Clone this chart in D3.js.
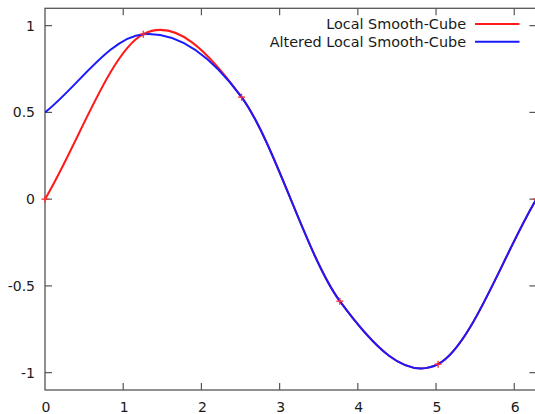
<!DOCTYPE html>
<html>
<head>
<meta charset="utf-8">
<script src="https://cdn.jsdelivr.net/npm/d3@7"></script>
<style>
  html, body { margin: 0; padding: 0; background: #fff; }
  svg { display: block; }
  text { font-family: "DejaVu Sans", sans-serif; fill: #1a1a1a; }
</style>
</head>
<body>
<svg id="chart" width="535" height="414"></svg>
<script>
// Knots (x positions and the two sets of knot values)
const knotX = [0, 1.2566, 2.5133, 3.7699, 5.0265, 6.2832];
const localY = [0, 0.951, 0.588, -0.588, -0.951, 0];
const alteredY = [0.5, 0.951, 0.588, -0.588, -0.951, 0];

const seriesNames = ["Local Smooth-Cube", "Altered Local Smooth-Cube"];
const seriesColors = ["#ff1a1a", "#1a1aff"];

const xTicks = [0, 1, 2, 3, 4, 5, 6];
const yTicks = [-1, -0.5, 0, 0.5, 1];
const yTickLabels = ["-1", "-0.5", "0", "0.5", "1"];
const xDomain = [0, 6.2832];
const yDomain = [-1.1, 1.1];

const plot = { left: 45, right: 536.4, top: 8.3, bottom: 390 };

const svg = d3.select("#chart");
const x = d3.scaleLinear().domain(xDomain).range([plot.left, plot.right]);
const y = d3.scaleLinear().domain(yDomain).range([plot.bottom, plot.top]);

svg.append("defs").append("clipPath").attr("id", "plotClip")
  .append("rect")
  .attr("x", plot.left).attr("y", plot.top)
  .attr("width", plot.right - plot.left).attr("height", plot.bottom - plot.top);

// Local cubic Hermite: centred differences inside, one-sided at the ends
function tangents(xs, ys) {
  const n = xs.length;
  return xs.map((_, i) => {
    if (i === 0) return (ys[1] - ys[0]) / (xs[1] - xs[0]);
    if (i === n - 1) return (ys[n - 1] - ys[n - 2]) / (xs[n - 1] - xs[n - 2]);
    return (ys[i + 1] - ys[i - 1]) / (xs[i + 1] - xs[i - 1]);
  });
}

function smoothCubePath(xs, ys) {
  const m = tangents(xs, ys);
  const p = d3.path();
  p.moveTo(x(xs[0]), y(ys[0]));
  for (let i = 0; i < xs.length - 1; i++) {
    const h = xs[i + 1] - xs[i];
    p.bezierCurveTo(
      x(xs[i] + h / 3), y(ys[i] + m[i] * h / 3),
      x(xs[i + 1] - h / 3), y(ys[i + 1] - m[i + 1] * h / 3),
      x(xs[i + 1]), y(ys[i + 1])
    );
  }
  return p.toString();
}

const axisColor = "#555";
const tickLen = 7;

// Border
svg.append("rect")
  .attr("x", plot.left).attr("y", plot.top)
  .attr("width", plot.right - plot.left).attr("height", plot.bottom - plot.top)
  .attr("fill", "none").attr("stroke", axisColor).attr("stroke-width", 1.3);

// Ticks drawn inward on all four sides
const ticks = svg.append("g").attr("stroke", axisColor).attr("stroke-width", 1.2);
xTicks.forEach(t => {
  const px = x(t);
  if (t !== 0) {
    ticks.append("line").attr("x1", px).attr("x2", px)
      .attr("y1", plot.bottom).attr("y2", plot.bottom - tickLen);
    ticks.append("line").attr("x1", px).attr("x2", px)
      .attr("y1", plot.top).attr("y2", plot.top + tickLen);
  }
});
yTicks.forEach(t => {
  const py = y(t);
  ticks.append("line").attr("x1", plot.left).attr("x2", plot.left + tickLen)
    .attr("y1", py).attr("y2", py);
  ticks.append("line").attr("x1", plot.right).attr("x2", plot.right - tickLen)
    .attr("y1", py).attr("y2", py);
});

// Tick labels
svg.append("g").selectAll("text").data(xTicks).join("text")
  .attr("x", d => x(d) + 1).attr("y", 412)
  .attr("text-anchor", "middle").attr("font-size", 14)
  .text(d => String(d));
svg.append("g").selectAll("text").data(yTicks).join("text")
  .attr("x", 35).attr("y", d => y(d) + 5)
  .attr("text-anchor", "end").attr("font-size", 14)
  .text((d, i) => yTickLabels[i]);

// Curves
const curves = svg.append("g").attr("clip-path", "url(#plotClip)");
[localY, alteredY].forEach((ys, i) => {
  curves.append("path")
    .attr("d", smoothCubePath(knotX, ys))
    .attr("fill", "none")
    .attr("stroke", seriesColors[i])
    .attr("stroke-width", 2);
});

// Knot markers
const marks = svg.append("g").attr("stroke", "#ff2a2a").attr("stroke-width", 1.3);
knotX.forEach((kx, i) => {
  const px = x(kx), py = y(localY[i]);
  marks.append("line").attr("x1", px - 3.5).attr("x2", px + 3.5).attr("y1", py).attr("y2", py);
  marks.append("line").attr("x1", px).attr("x2", px).attr("y1", py - 3.5).attr("y2", py + 3.5);
});

// Legend
const legend = svg.append("g");
seriesNames.forEach((name, i) => {
  const ly = 24 + i * 17.7;
  legend.append("text")
    .attr("x", 466).attr("y", ly + 5)
    .attr("text-anchor", "end").attr("font-size", 14.4)
    .text(name);
  legend.append("line")
    .attr("x1", 475).attr("x2", 519.5).attr("y1", ly).attr("y2", ly)
    .attr("stroke", seriesColors[i]).attr("stroke-width", 2);
});
</script>
</body>
</html>
